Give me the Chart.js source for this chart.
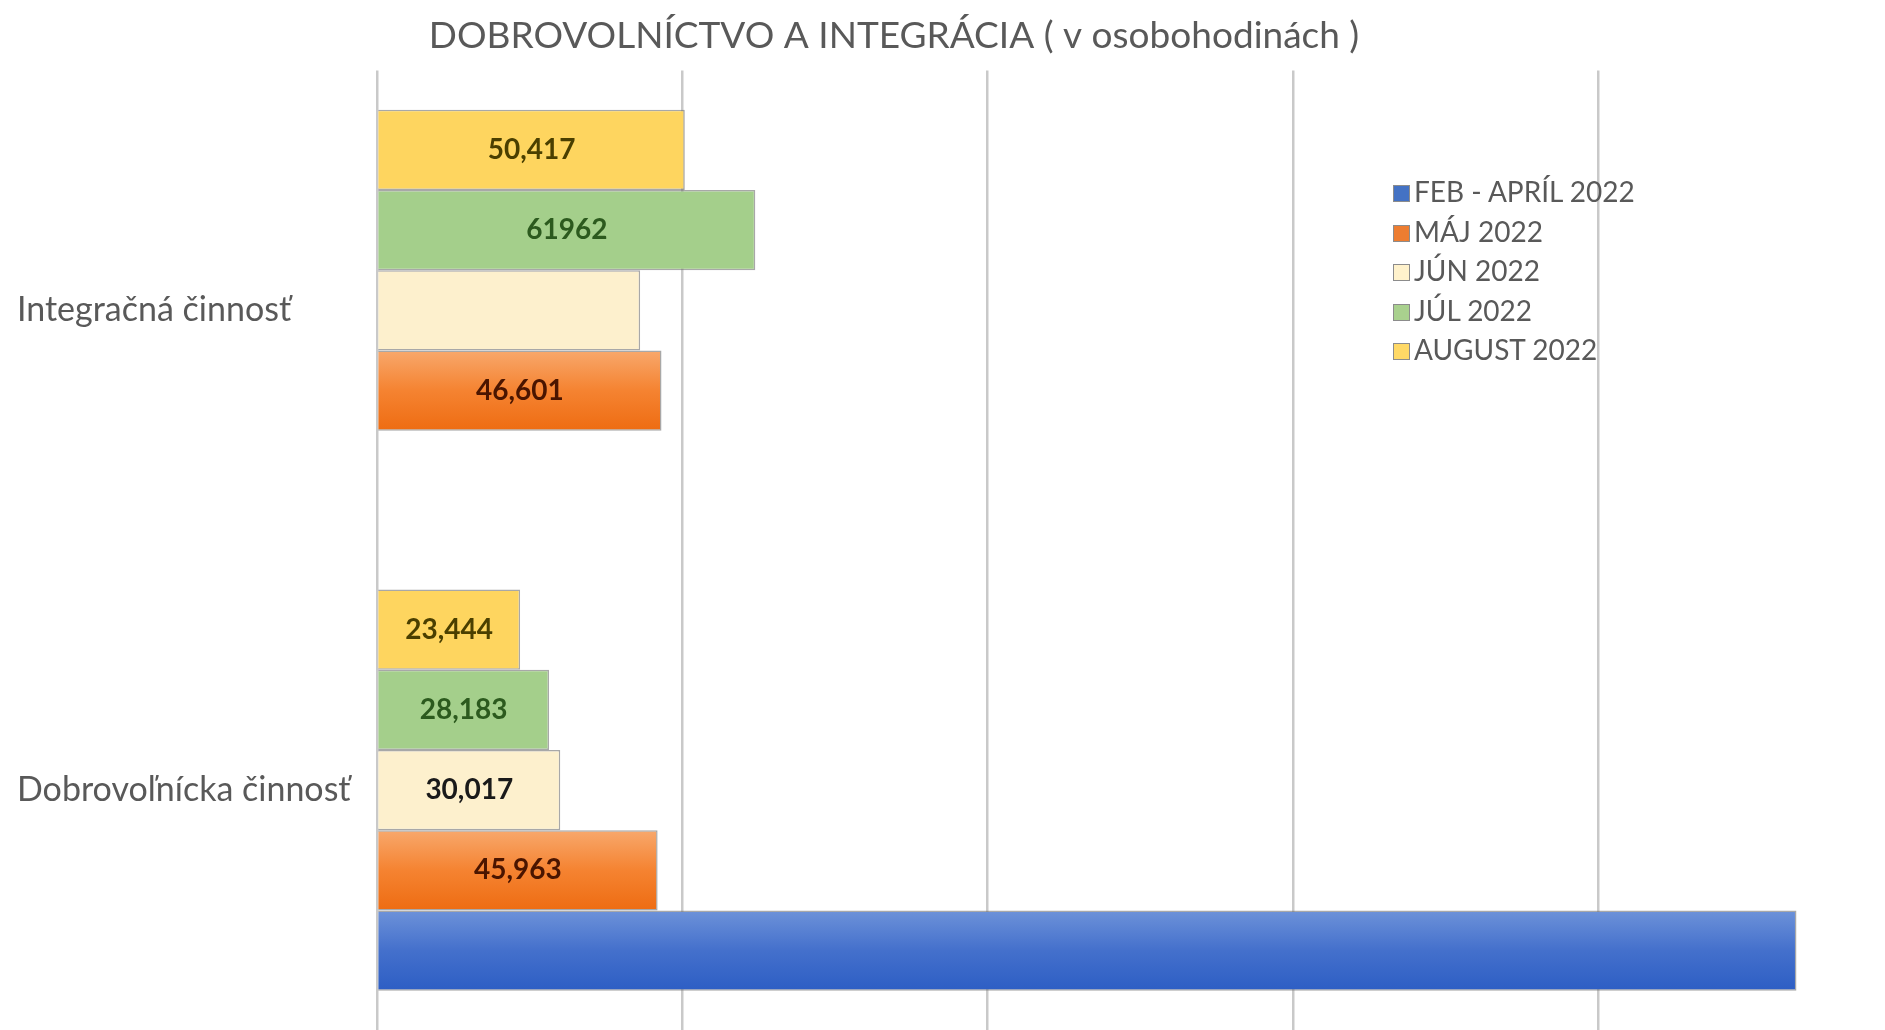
<!DOCTYPE html>
<html lang="sk">
<head>
<meta charset="utf-8">
<title>Dobrovoľníctvo a integrácia</title>
<script src="https://cdn.jsdelivr.net/npm/chart.js@4/dist/chart.umd.min.js"></script>
<style>
  body { margin: 0; background: #fff; overflow: hidden; }
  #wrap { position: relative; width: 1885px; height: 1030px; }
  #legend { position: absolute; left: 1393px; top: 172px; font-family: Lato, sans-serif; font-size: 28px; color: #595959; }
  #legend div { height: 39.5px; line-height: 39.5px; white-space: nowrap; }
  #legend span { display: inline-block; width: 15px; height: 15px; margin-right: 4px; border: 1px solid #8c8c8c; vertical-align: 0px; }
</style>
</head>
<body>
<div id="wrap">
  <canvas id="chart"></canvas>
  <div id="legend"></div>
</div>
<script>
const categories = ['Integračná činnosť', 'Dobrovoľnícka činnosť'];
const seriesNames = ['FEB - APRÍL 2022', 'MÁJ 2022', 'JÚN 2022', 'JÚL 2022', 'AUGUST 2022'];

const febApril = [null, 232500];
const maj = [46601, 45963];
const jun = [43100, 30017];
const jul = [61962, 28183];
const august = [50417, 23444];

// texts shown inside the bars (as written in the original)
const majTexts = ['46,601', '45,963'];
const junTexts = ['', '30,017'];
const julTexts = ['61962', '28,183'];
const augustTexts = ['50,417', '23,444'];

const gridTicks = [0, 50000, 100000, 150000, 200000];

const legendColors = ['#4472c4', '#ed7d31', '#fff2cc', '#a9d18e', '#ffd966'];

// Excel lists the first series at the bottom, so datasets go in reverse
const datasets = [
    { label: seriesNames[4], data: august, valueTexts: augustTexts, backgroundColor: '#fed55f', textColor: '#4a3f00' },
    { label: seriesNames[3], data: jul, valueTexts: julTexts, backgroundColor: '#a4cf8b', textColor: '#2c5a1e' },
    { label: seriesNames[2], data: jun, valueTexts: junTexts, backgroundColor: '#fdf0cd', textColor: '#1a1a1a' },
    { label: seriesNames[1], data: maj, valueTexts: majTexts, backgroundColor: '#f5842e', textColor: '#4a1500',
      shade: [[0, '#f8a86c'], [0.5, '#f58331'], [1, '#ee6c12']] },
    { label: seriesNames[0], data: febApril, valueTexts: [], backgroundColor: '#3d68c8',
      shade: [[0, '#6d92d9'], [0.5, '#4470cc'], [1, '#2d5ec4']] }
];

// vertical gradient inside each bar
const barShade = {
    id: 'barShade',
    beforeDatasetsDraw(chart) {
        const ctx = chart.ctx;
        chart.data.datasets.forEach((ds, i) => {
            if (!ds.shade) return;
            chart.getDatasetMeta(i).data.forEach(bar => {
                const top = bar.y - bar.height / 2;
                const g = ctx.createLinearGradient(0, top, 0, top + bar.height);
                ds.shade.forEach(s => g.addColorStop(s[0], s[1]));
                bar.options = Object.assign({}, bar.options, { backgroundColor: g });
            });
        });
    }
};

// value labels in the middle of the bars
const valueLabels = {
    id: 'valueLabels',
    afterDatasetsDraw(chart) {
        const ctx = chart.ctx;
        ctx.save();
        ctx.font = 'bold 28px Lato';
        ctx.textAlign = 'center';
        ctx.textBaseline = 'middle';
        chart.data.datasets.forEach((ds, i) => {
            chart.getDatasetMeta(i).data.forEach((bar, j) => {
                const text = ds.valueTexts[j];
                if (!text) return;
                ctx.fillStyle = ds.textColor;
                ctx.fillText(text, (bar.x + bar.base) / 2, bar.y);
            });
        });
        ctx.restore();
    }
};

// the title sits a bit left of the canvas centre
const titleCenter = {
    id: 'titleCenter',
    afterLayout(chart) {
        chart.titleBlock.right = 2 * 894 - chart.titleBlock.left;
    }
};

const ctx = document.getElementById('chart').getContext('2d');
new Chart(ctx, {
    type: 'bar',
    data: { labels: categories, datasets: datasets },
    options: {
        indexAxis: 'y',
        responsive: true,
        maintainAspectRatio: false,
        animation: false,
        layout: { padding: { left: 17, right: 0, top: 0, bottom: 0 } },
        datasets: {
            bar: {
                barPercentage: 1,
                categoryPercentage: 0.836,
                borderWidth: 1.5,
                borderColor: 'rgba(110,110,110,0.6)'
            }
        },
        scales: {
            x: {
                min: 0,
                max: 247000,
                afterBuildTicks: scale => { scale.ticks = gridTicks.map(v => ({ value: v })); },
                ticks: { display: false },
                grid: { color: '#c9c9c9', lineWidth: 2.5, drawTicks: false },
                border: { display: false }
            },
            y: {
                afterFit: scale => {
                    scale.width = 360;
                    scale.paddingTop = 0;
                    scale.paddingBottom = 0;
                },
                ticks: {
                    crossAlign: 'far',
                    color: '#595959',
                    font: { family: 'Lato', size: 34 }
                },
                grid: { display: false },
                border: { display: false }
            }
        },
        plugins: {
            legend: { display: false },
            tooltip: { enabled: false },
            title: {
                display: true,
                text: 'DOBROVOLNÍCTVO A INTEGRÁCIA ( v osobohodinách )',
                color: '#595959',
                font: { family: 'Lato', size: 37, weight: 'normal' },
                padding: { top: 14, bottom: 12 }
            }
        }
    },
    plugins: [barShade, valueLabels, titleCenter]
});

// legend in the original series order
const legendBox = document.getElementById('legend');
seriesNames.forEach((name, i) => {
    const row = document.createElement('div');
    const swatch = document.createElement('span');
    swatch.style.background = legendColors[i];
    row.appendChild(swatch);
    row.appendChild(document.createTextNode(name));
    legendBox.appendChild(row);
});
</script>
</body>
</html>
